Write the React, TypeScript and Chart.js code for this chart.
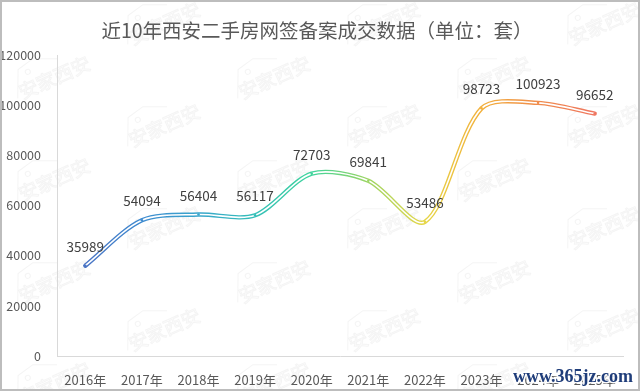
import React, { useEffect, useRef } from "react";
import { Chart, registerables } from "chart.js";

Chart.register(...registerables);

const years = ["2016年", "2017年", "2018年", "2019年", "2020年", "2021年", "2022年", "2023年", "2024年", "2025年"];
const deals = [35989, 54094, 56404, 56117, 72703, 69841, 53486, 98723, 100923, 96652];
const yTicks = [0, 20000, 40000, 60000, 80000, 100000, 120000];
const lineColors = ["#4a74c4", "#3f8bd0", "#3aa6cc", "#35bfb8", "#3fd49c", "#9dd563", "#e6d647", "#f2b03c", "#f08c4c", "#ef7660"];
const titleText = "近10年西安二手房网签备案成交数据（单位：套）";
const watermarkText = "安家西安";
const siteText = "www.365jz.com";

const FONT = "'Noto Sans CJK SC', 'Noto Sans', sans-serif";
const TENSION = 0.3;

function makeGradient(chart: any) {
  const xs = chart.scales && chart.scales.x;
  if (!xs) return lineColors[0];
  const n = deals.length;
  const x0 = xs.getPixelForValue(0);
  const x1 = xs.getPixelForValue(n - 1);
  if (!Number.isFinite(x0) || !Number.isFinite(x1) || x1 <= x0) return lineColors[0];
  const g = chart.ctx.createLinearGradient(x0, 0, x1, 0);
  for (let i = 0; i < n; i++) {
    const f = Math.min(1, Math.max(0, (xs.getPixelForValue(i) - x0) / (x1 - x0)));
    g.addColorStop(f, lineColors[i % lineColors.length]);
  }
  return g;
}

const decorPlugin = {
  id: "decor",
  beforeDraw(chart: any) {
    const { ctx, width, height } = chart;
    ctx.save();
    ctx.fillStyle = "#ffffff";
    ctx.fillRect(0, 0, width, height);
    // watermarks
    ctx.strokeStyle = "rgba(150,150,150,0.10)";
    ctx.lineWidth = 1;
    ctx.font = `19px ${FONT}`;
    for (let c = 0; c < 6; c++) {
      const cx = 52 + c * 110;
      const off = c % 2 === 1 ? 48 : 0;
      for (let r = -1; r < 5; r++) {
        const cy = 72 + r * 102 + off;
        ctx.save();
        ctx.translate(cx, cy);
        ctx.rotate(-0.42);
        ctx.beginPath();
        ctx.moveTo(-42, 10);
        ctx.lineTo(-30, -16);
        ctx.lineTo(-12, -20);
        ctx.lineTo(10, -10);
        ctx.stroke();
        ctx.beginPath();
        ctx.arc(-22, -10, 2.5, 0, Math.PI * 2);
        ctx.stroke();
        ctx.textAlign = "center";
        ctx.textBaseline = "middle";
        ctx.strokeText(watermarkText, 0, 6);
        ctx.restore();
      }
    }
    // title
    ctx.fillStyle = "#595959";
    ctx.font = `19.5px ${FONT}`;
    ctx.textAlign = "center";
    ctx.textBaseline = "middle";
    ctx.fillText(titleText, 317, 31);
    ctx.restore();
  },
  afterDraw(chart: any) {
    const { ctx, width, height } = chart;
    ctx.save();
    const meta = chart.getDatasetMeta(0);
    ctx.fillStyle = "#404040";
    ctx.font = `13.5px ${FONT}`;
    ctx.textAlign = "center";
    ctx.textBaseline = "middle";
    meta.data.forEach((p: any, i: number) => {
      ctx.fillText(String(deals[i]), p.x, p.y - 19);
    });
    // site mark
    ctx.font = `bold 18px 'Liberation Serif', serif`;
    ctx.textAlign = "right";
    ctx.lineWidth = 3;
    ctx.strokeStyle = "rgba(255,255,255,0.9)";
    ctx.strokeText(siteText, 633, 377);
    ctx.fillStyle = "#1f3d7a";
    ctx.fillText(siteText, 633, 377);
    // frame
    ctx.strokeStyle = "#bdbdbd";
    ctx.lineWidth = 2;
    ctx.strokeRect(1, 1, width - 2, height - 2);
    ctx.restore();
  },
};

export default function App() {
  const ref = useRef<HTMLCanvasElement | null>(null);
  useEffect(() => {
    if (!ref.current) return;
    const chart = new Chart(ref.current, {
      type: "line",
      data: {
        labels: years,
        datasets: [
          {
            data: deals,
            order: 2,
            borderColor: (c: any) => makeGradient(c.chart),
            borderWidth: 4.4,
            borderCapStyle: "round",
            tension: TENSION,
            pointRadius: 0,
            fill: false,
          },
          {
            data: deals,
            order: 1,
            borderColor: "#ffffff",
            borderWidth: 1.6,
            borderCapStyle: "butt",
            tension: TENSION,
            pointRadius: 1.3,
            pointBorderWidth: 0,
            pointBackgroundColor: lineColors,
            fill: false,
          },
        ],
      },
      options: {
        animation: false,
        responsive: false,
        events: [],
        layout: { padding: { top: 55, right: 17, bottom: 0, left: 0 } },
        plugins: { legend: { display: false }, tooltip: { enabled: false }, title: { display: false } },
        scales: {
          x: {
            type: "category",
            offset: true,
            grid: { display: false },
            border: { display: true, color: "#d9d9d9", width: 1 },
            ticks: { color: "#595959", font: { family: FONT, size: 13 }, padding: 8, maxRotation: 0, autoSkip: false },
            afterFit: (s: any) => {
              s.height = 35;
            },
          },
          y: {
            min: 0,
            max: 120000,
            afterBuildTicks: (s: any) => {
              s.ticks = yTicks.map((v) => ({ value: v }));
            },
            grid: { display: false },
            border: { display: true, color: "#d9d9d9", width: 1 },
            ticks: { color: "#595959", font: { family: FONT, size: 12.5 }, padding: 8, callback: (v: any) => String(v) },
            afterFit: (s: any) => {
              s.width = 57;
            },
          },
        },
      },
      plugins: [decorPlugin],
    } as any);
    return () => chart.destroy();
  }, []);
  return (
    <div style={{ position: "fixed", left: 0, top: 0, width: 640, height: 391, background: "#fff" }}>
      <canvas ref={ref} width={640} height={391} style={{ display: "block", width: 640, height: 391 }} />
    </div>
  );
}
